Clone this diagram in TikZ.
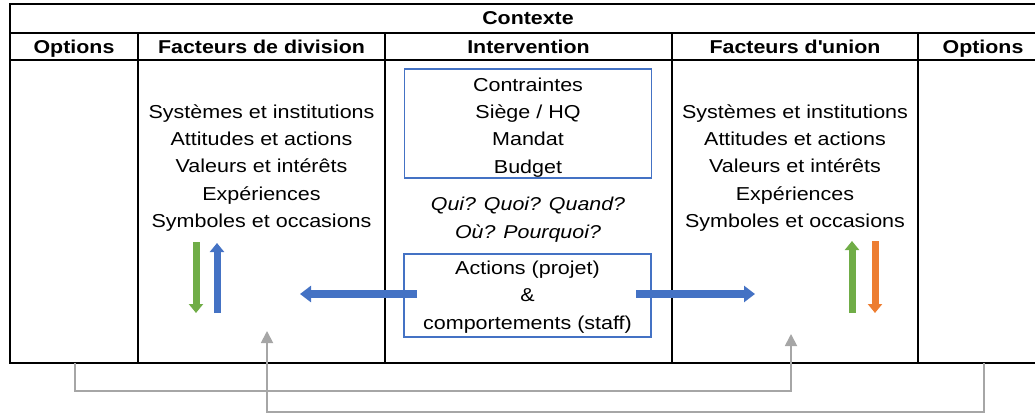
\documentclass[tikz,border=0pt]{standalone}
\usepackage{fontspec}
\setmainfont{Liberation Sans}[FakeStretch=1.15]
\usetikzlibrary{arrows.meta}
\definecolor{pblue}{HTML}{4472C4}
\definecolor{pgreen}{HTML}{70AD47}
\definecolor{porange}{HTML}{ED7D31}
\definecolor{lgrey}{HTML}{A6A6A6}
\begin{document}
\begin{tikzpicture}[x=1pt,y=-1pt,
  rule/.style={line width=2pt, black},
  head/.style={font=\fontsize{18.6}{22}\selectfont\bfseries, inner sep=0pt,
    text height=13.3pt, text depth=0pt},
  txt/.style={font=\fontsize{18.7}{27.3}\selectfont, align=center, inner sep=0pt},
  itxt/.style={font=\fontsize{18.6}{28}\selectfont\itshape, align=center, inner sep=0pt},
  bluebox/.style={draw=pblue, line width=1.6pt, minimum width=247pt, inner sep=0pt},
  fat/.style={line width=8pt, -{Triangle[width=16pt,length=11pt]}},
  slim/.style={line width=7pt, -{Triangle[width=14pt,length=9pt]}},
  link/.style={draw=lgrey, line width=1.8pt, -{Triangle[width=12pt,length=12pt]}}]
\useasboundingbox (0,0) rectangle (1035,417);
\clip (0,0) rectangle (1035,417);

% table frame and rules
\draw[rule] (10,4) rectangle (1046,363);
\draw[rule] (10,33) -- (1046,33);
\draw[rule] (10,60) -- (1046,60);
\foreach \c in {138,385,672,918} \draw[rule] (\c,33) -- (\c,363);

% headings
\node[head] (ctx) at (528,17.5) {Contexte};
\node[head] (optL) at (74,46.5) {Options};
\node[head] (divH) at (261.5,46.5) {Facteurs de division};
\node[head] (intH) at (528.5,46.5) {Intervention};
\node[head] (uniH) at (795,46.5) {Facteurs d\textquotesingle union};
\node[head] (optR) at (983,46.5) {Options};

% factor lists
\node[txt] (divL) at (261.5,168) {Systèmes et institutions\\Attitudes et actions\\Valeurs et intérêts\\Expériences\\Symboles et occasions};
\node[txt] (uniL) at (795,168) {Systèmes et institutions\\Attitudes et actions\\Valeurs et intérêts\\Expériences\\Symboles et occasions};

% intervention column
\node[bluebox, minimum height=109pt] (ctr) at (528,123.5) {};
\node[txt] (ctrT) at (528,127.5) {Contraintes\\Siège / HQ\\Mandat\\Budget};
\node[itxt] (qq) at (528,220) {Qui? Quoi? Quand?\\Où? Pourquoi?};
\node[bluebox, minimum height=83pt] (act) at (527.5,295.5) {};
\node[txt] (actT) at (527.5,297) {Actions (projet)\\\&\\comportements (staff)};

% free ends of the arrows
\coordinate (aL) at (300,294);
\coordinate (aR) at (755,294);
\coordinate (actL) at (417,294);
\coordinate (actR) at (636,294);

\draw[fat, pblue] (actL) -- (aL);
\draw[fat, pblue] (actR) -- (aR);

% feedback arrows inside the factor columns
\coordinate (g1t) at (196,242); \coordinate (g1b) at (196,313);
\coordinate (b1t) at (217,243); \coordinate (b1b) at (217,313);
\coordinate (g2t) at (852,241); \coordinate (g2b) at (852,313);
\coordinate (o2t) at (875,241); \coordinate (o2b) at (875,313);
\draw[slim, pgreen] (g1t) -- (g1b);
\draw[slim, pblue] (b1b) -- (b1t);
\draw[slim, pgreen] (g2b) -- (g2t);
\draw[slim, porange] (o2t) -- (o2b);

% links from the options back to the factors
\coordinate (oL) at (75,363);
\coordinate (oR) at (984,363);
\coordinate (tU) at (791,334);
\coordinate (tD) at (267,331);
\draw[link] (oL) -- (75,391) -| (tU);
\draw[link] (oR) -- (984,412) -| (tD);
\end{tikzpicture}
\end{document}
